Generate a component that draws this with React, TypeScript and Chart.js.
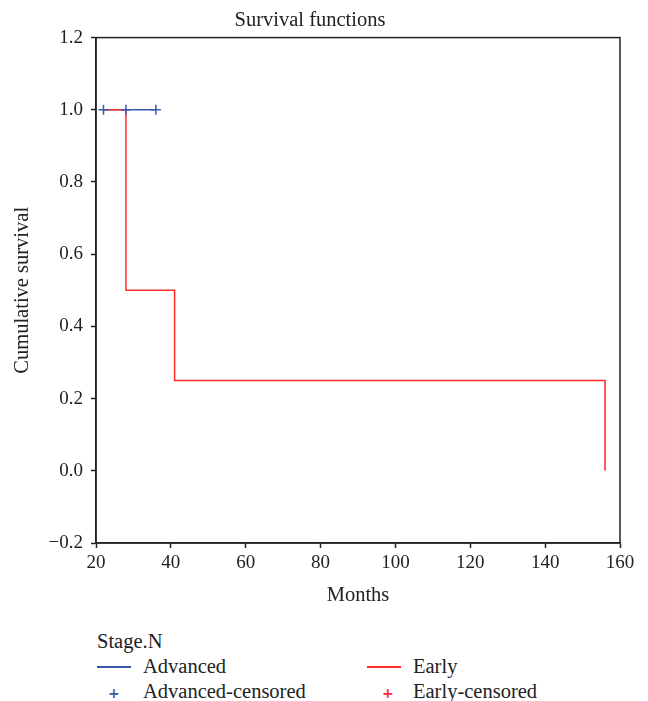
import React, { useEffect, useRef } from "react";
import { Chart, registerables } from "chart.js";

Chart.register(...registerables);

const chartTitle = "Survival functions";
const xTitle = "Months";
const yTitle = "Cumulative survival";
const legendTitle = "Stage.N";
const xTicks = [20, 40, 60, 80, 100, 120, 140, 160];
const yTicks = [-0.2, 0, 0.2, 0.4, 0.6, 0.8, 1.0, 1.2];

const advancedTimes = [22, 36];
const advancedSurvival = [1.0, 1.0];
const advancedCensoredTimes = [22, 28, 36];
const advancedCensoredSurvival = [1.0, 1.0, 1.0];

const earlyTimes = [22, 28, 41, 156];
const earlySurvival = [1.0, 0.5, 0.25, 0.0];
const earlyCensoredTimes: number[] = [];
const earlyCensoredSurvival: number[] = [];

const BLUE = "#3a58a8";
const RED = "#ff2a2a";
const FONT = "'Liberation Serif', 'DejaVu Serif', serif";
const LABEL_SIZE = 20.5;

const toPts = (xs: number[], ys: number[]) => xs.map((x, i) => ({ x, y: ys[i] }));

const boxPlugin = {
  id: "box",
  afterDraw(chart: any) {
    const { ctx, chartArea } = chart;
    ctx.save();
    ctx.strokeStyle = "#222";
    ctx.lineWidth = 1.5;
    ctx.strokeRect(chartArea.left, chartArea.top, chartArea.right - chartArea.left, chartArea.bottom - chartArea.top);
    ctx.restore();
  },
};

export default function App() {
  const ref = useRef<HTMLCanvasElement>(null);
  useEffect(() => {
    if (!ref.current) return;
    const chart = new Chart(ref.current, {
      type: "scatter",
      data: {
        datasets: [
          {
            label: "Advanced",
            data: toPts(advancedTimes, advancedSurvival),
            showLine: true,
            stepped: "before",
            borderColor: BLUE,
            borderWidth: 1.5,
            pointRadius: 0,
            order: 4,
          },
          {
            label: "Early",
            data: toPts(earlyTimes, earlySurvival),
            showLine: true,
            stepped: "before",
            borderColor: RED,
            borderWidth: 1.5,
            pointRadius: 0,
            order: 3,
          },
          {
            label: "Advanced-censored",
            data: toPts(advancedCensoredTimes, advancedCensoredSurvival),
            showLine: false,
            pointStyle: "cross",
            pointRadius: 5,
            pointBorderWidth: 1.5,
            borderColor: BLUE,
            backgroundColor: BLUE,
            order: 2,
          },
          {
            label: "Early-censored",
            data: toPts(earlyCensoredTimes, earlyCensoredSurvival),
            showLine: false,
            pointStyle: "cross",
            pointRadius: 5,
            pointBorderWidth: 1.5,
            borderColor: RED,
            backgroundColor: RED,
            order: 1,
          },
        ],
      },
      options: {
        animation: false,
        responsive: false,
        layout: { padding: { left: 0, right: 28, top: 0, bottom: 0 } },
        plugins: {
          legend: { display: false },
          tooltip: { enabled: false },
          title: {
            display: true,
            text: chartTitle,
            color: "#222",
            font: { family: FONT, size: LABEL_SIZE, weight: "normal" },
            padding: { top: 8, bottom: 5 },
          },
        },
        scales: {
          x: {
            type: "linear",
            min: 20,
            max: 160,
            afterBuildTicks: (s: any) => {
              s.ticks = xTicks.map((v) => ({ value: v }));
            },
            afterFit: (s: any) => {
              s.height = 77;
            },
            ticks: {
              color: "#222",
              font: { family: FONT, size: 19 },
              padding: 4,
              maxRotation: 0,
              callback: (v: any) => String(v),
            },
            grid: { drawOnChartArea: false, drawTicks: true, tickLength: 5, tickColor: "#222", tickWidth: 1.5 },
            border: { display: true, color: "#222", width: 1.5 },
            title: {
              display: true,
              text: xTitle,
              color: "#222",
              font: { family: FONT, size: LABEL_SIZE },
              padding: { top: 6, bottom: 12 },
            },
          },
          y: {
            type: "linear",
            min: -0.2,
            max: 1.2,
            afterBuildTicks: (s: any) => {
              s.ticks = yTicks.map((v) => ({ value: v }));
            },
            afterFit: (s: any) => {
              s.width = 96;
            },
            ticks: {
              color: "#222",
              font: { family: FONT, size: 19 },
              padding: 8,
              callback: (v: any) => {
                const n = Number(v);
                const s = Math.abs(n).toFixed(1);
                return n < -1e-9 ? "\u2212" + s : s;
              },
            },
            grid: { drawOnChartArea: false, drawTicks: true, tickLength: 5, tickColor: "#222", tickWidth: 1.5 },
            border: { display: true, color: "#222", width: 1.5 },
            title: {
              display: true,
              text: yTitle,
              color: "#222",
              font: { family: FONT, size: LABEL_SIZE },
              padding: { top: 10, bottom: 10 },
            },
          },
        },
      },
      plugins: [boxPlugin],
    });
    return () => chart.destroy();
  }, []);

  const textStyle: React.CSSProperties = {
    position: "absolute",
    fontFamily: FONT,
    fontSize: LABEL_SIZE,
    color: "#222",
    lineHeight: "20px",
    whiteSpace: "nowrap",
  };
  const lineSample = (x: number, y: number, color: string) => (
    <div style={{ position: "absolute", left: x, top: y, width: 34, height: 1.5, background: color }} />
  );
  const cross = (x: number, y: number, color: string) => (
    <div
      style={{
        ...textStyle,
        left: x,
        top: y,
        color,
        fontSize: 14,
        fontWeight: "bold",
        fontFamily: "'DejaVu Sans', sans-serif",
      }}
    >
      +
    </div>
  );

  return (
    <div style={{ position: "absolute", left: 0, top: 0, width: 648, height: 701, background: "#fff" }}>
      <canvas ref={ref} width={648} height={620} style={{ position: "absolute", left: 0, top: 0 }} />
      <div style={{ ...textStyle, left: 97, top: 631 }}>{legendTitle}</div>
      {lineSample(97, 666, BLUE)}
      <div style={{ ...textStyle, left: 143, top: 656 }}>Advanced</div>
      {lineSample(367, 666, RED)}
      <div style={{ ...textStyle, left: 413, top: 656 }}>Early</div>
      {cross(108, 683, BLUE)}
      <div style={{ ...textStyle, left: 143, top: 681 }}>Advanced-censored</div>
      {cross(382, 683, RED)}
      <div style={{ ...textStyle, left: 413, top: 681 }}>Early-censored</div>
    </div>
  );
}
